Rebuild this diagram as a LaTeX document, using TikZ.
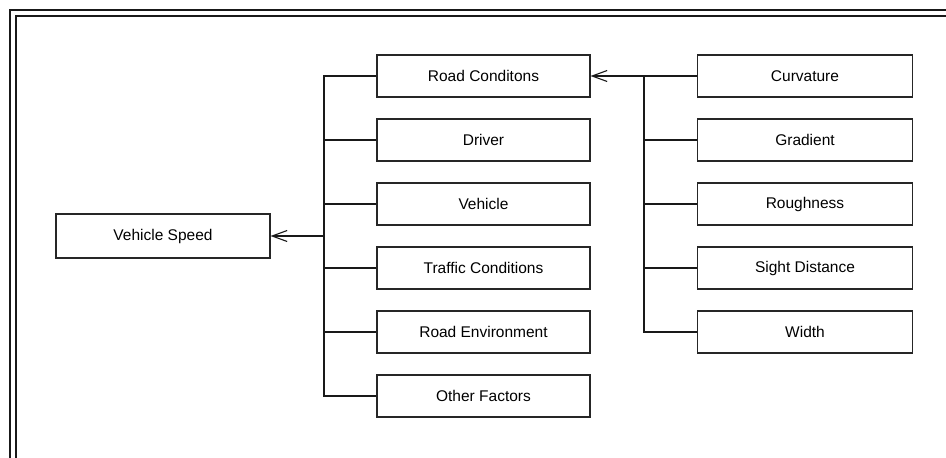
\documentclass[tikz,border=0pt]{standalone}
\usepackage{fontspec}
\setmainfont{Liberation Sans}
\usetikzlibrary{arrows.meta}
\begin{document}
\begin{tikzpicture}[x=1pt,y=-1pt,
  factor/.style={draw=black!85,line width=1.1pt,minimum width=213pt,minimum height=42pt,
    inner sep=0pt,font=\fontsize{15.5}{18}\selectfont},
  link/.style={draw=black!90,line width=1.1pt},
  feed/.style={link,-{Straight Barb[length=15pt,width=11pt,line width=1.1pt]}},
  frame/.style={draw=black!90,line width=1.1pt}]
\useasboundingbox (0,0) rectangle (946,458);
% double frame along the top and left edges
\draw[frame] (10,458) -- (10,10) -- (946,10);
\draw[frame] (16,458) -- (16,16) -- (946,16);

% result
\node[factor,minimum width=214pt,minimum height=44pt] (vs) at (163,236) {Vehicle Speed};

% first-level factors
\node[factor] (road)  at (483.5,76)  {Road Conditons};
\node[factor] (drv)   at (483.5,140) {Driver};
\node[factor] (veh)   at (483.5,204) {Vehicle};
\node[factor] (traf)  at (483.5,268) {Traffic Conditions};
\node[factor] (env)   at (483.5,332) {Road Environment};
\node[factor] (oth)   at (483.5,396) {Other Factors};

% road sub-factors
\node[factor,minimum width=215pt] (curv)  at (805,76)  {Curvature};
\node[factor,minimum width=215pt] (grad)  at (805,140) {Gradient};
\node[factor,minimum width=215pt] (rough) at (805,204) {Roughness};
\node[factor,minimum width=215pt] (sight) at (805,268) {Sight Distance};
\node[factor,minimum width=215pt] (wid)   at (805,332) {Width};

% bus lines
\coordinate (busL) at (324,236);
\coordinate (busR) at (644,204);

\draw[link] (road.west) -- (road.west -| busL) -- (oth.west -| busL) -- (oth.west);
\foreach \n in {drv,veh,traf,env}
  \draw[link] (\n.west) -- (\n.west -| busL);
\draw[feed] (vs.east -| busL) -- (vs.east);

\draw[link] (wid.west) -- (wid.west -| busR) -- (curv.west -| busR);
\foreach \n in {grad,rough,sight}
  \draw[link] (\n.west) -- (\n.west -| busR);
\draw[feed] (curv.west) -- (road.east);
\end{tikzpicture}
\end{document}
